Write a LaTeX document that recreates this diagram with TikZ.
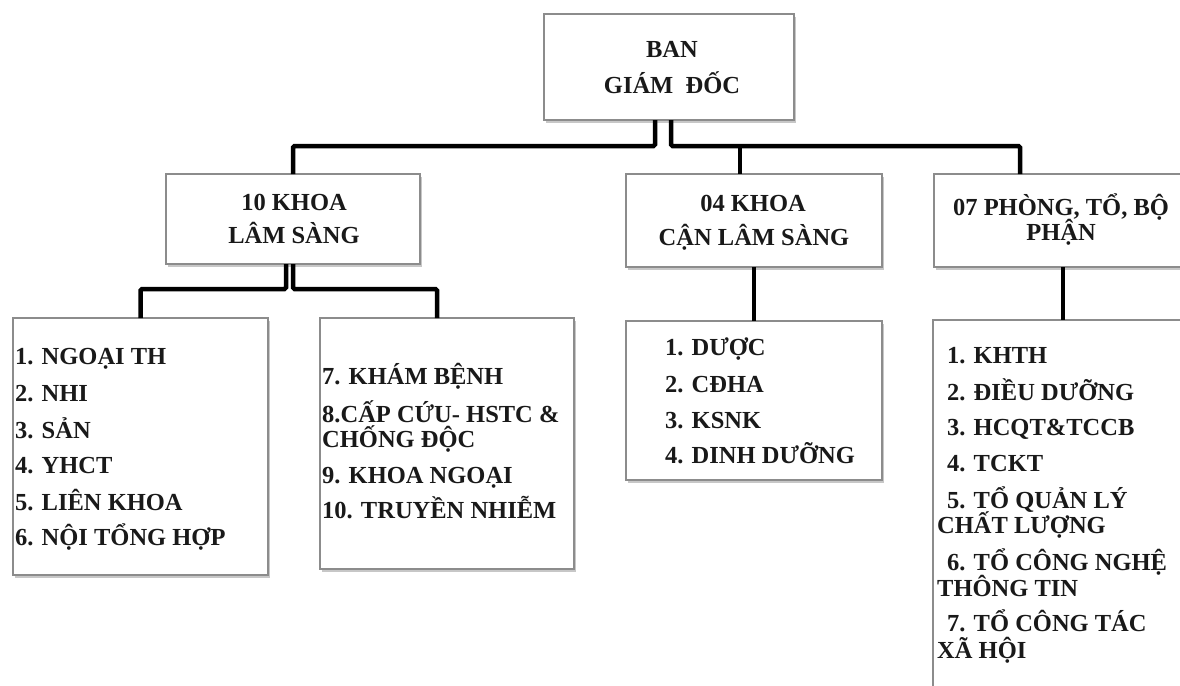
\documentclass[tikz,border=0pt]{standalone}
\usepackage{fontspec}
\newfontfamily\orgfont{Liberation Serif}
\usetikzlibrary{shadows}
\begin{document}
\begin{tikzpicture}[x=1pt,y=-1pt,
  unit/.style={draw=black!45, line width=1.1pt, fill=white, inner sep=0pt, outer sep=0pt,
    anchor=north west, drop shadow={shadow xshift=1.5pt, shadow yshift=-3pt, fill=black!40, opacity=0.55}},
  txt/.style={font=\orgfont\bfseries\fontsize{24.5}{30}\selectfont, inner sep=0pt, text=black!90},
  head/.style={txt, anchor=base},
  item/.style={txt, anchor=base west},
  link/.style={line width=4.5pt, draw=black, rounded corners=1.5pt}]
\path[use as bounding box] (0,0) rectangle (1180,685);
\clip (0,0) rectangle (1180,685);

% boxes
\node[unit, minimum width=250pt, minimum height=106pt] (top) at (544,14) {};
\node[unit, minimum width=254pt, minimum height=90pt]  (l10) at (166,174) {};
\node[unit, minimum width=256pt, minimum height=93pt]  (c04) at (626,174) {};
\node[unit, minimum width=258pt, minimum height=93pt]  (p07) at (934,174) {};
\node[unit, minimum width=255pt, minimum height=257pt] (d1) at (13,318) {};
\node[unit, minimum width=254pt, minimum height=251pt] (d2) at (320,318) {};
\node[unit, minimum width=256pt, minimum height=159pt] (d3) at (626,321) {};
\node[unit, minimum width=260pt, minimum height=380pt] (d4) at (933,320) {};

% junction points
\coordinate (jA) at (655,146);
\coordinate (jB) at (671,146);
\coordinate (jM) at (740,146);
\coordinate (jR) at (1020,146);
\coordinate (kA) at (286,289);
\coordinate (kB) at (293,289);
\coordinate (kR) at (437,289);

% connectors
\draw[link] (top.south -| jA) -- (jA) -| (l10.north);
\draw[link] (top.south -| jB) -- (jB) -- (jR) -- (jR |- p07.north);
\draw[link] (jM) -- (jM |- c04.north);
\draw[link] (l10.south -| kA) -- (kA) -| (d1.north);
\draw[link] (l10.south) -- (kB) -- (kR) -- (kR |- d2.north);
\draw[link] (c04.south) -- (d3.north);
\draw[link] (p07.south) -- (d4.north);

% headings
\node[head] (h1) at (672,57) {BAN};
\node[head] (h2) at (672,93) {GIÁM\ \ ĐỐC};
\node[head] (h3) at (294,210) {10 KHOA};
\node[head] (h4) at (294,243) {LÂM SÀNG};
\node[head] (h5) at (753,211) {04 KHOA};
\node[head] (h6) at (754,245) {CẬN LÂM SÀNG};
\node[head] (h7) at (1061,215) {07 PHÒNG, TỔ, BỘ};
\node[head] (h8) at (1061,240) {PHẬN};

% clinical departments
\node[item] (a1) at (15,364) {1. NGOẠI TH};
\node[item] (a2) at (15,401) {2. NHI};
\node[item] (a3) at (15,438) {3. SẢN};
\node[item] (a4) at (15,473) {4. YHCT};
\node[item] (a5) at (15,510) {5. LIÊN KHOA};
\node[item] (a6) at (15,545) {6. NỘI TỔNG HỢP};

\node[item] (b1) at (322,384) {7. KHÁM BỆNH};
\node[item] (b2) at (322,422) {8.CẤP CỨU- HSTC \&};
\node[item] (b3) at (322,447) {CHỐNG ĐỘC};
\node[item] (b4) at (322,483) {9. KHOA NGOẠI};
\node[item] (b5) at (322,518) {10. TRUYỀN NHIỄM};

% paraclinical departments
\node[item] (c1) at (665,355) {1. DƯỢC};
\node[item] (c2) at (665,392) {2. CĐHA};
\node[item] (c3) at (665,428) {3. KSNK};
\node[item] (c4) at (665,463) {4. DINH DƯỠNG};

% offices and units
\node[item] (e1) at (947,363) {1. KHTH};
\node[item] (e2) at (947,400) {2. ĐIỀU DƯỠNG};
\node[item] (e3) at (947,435) {3. HCQT\&TCCB};
\node[item] (e4) at (947,471) {4. TCKT};
\node[item] (e5) at (947,508) {5. TỔ QUẢN LÝ};
\node[item] (e6) at (937,533) {CHẤT LƯỢNG};
\node[item] (e7) at (947,570) {6. TỔ CÔNG NGHỆ};
\node[item] (e8) at (937,596) {THÔNG TIN};
\node[item] (e9) at (947,631) {7. TỔ CÔNG TÁC};
\node[item] (e10) at (937,658) {XÃ HỘI};
\end{tikzpicture}
\end{document}
